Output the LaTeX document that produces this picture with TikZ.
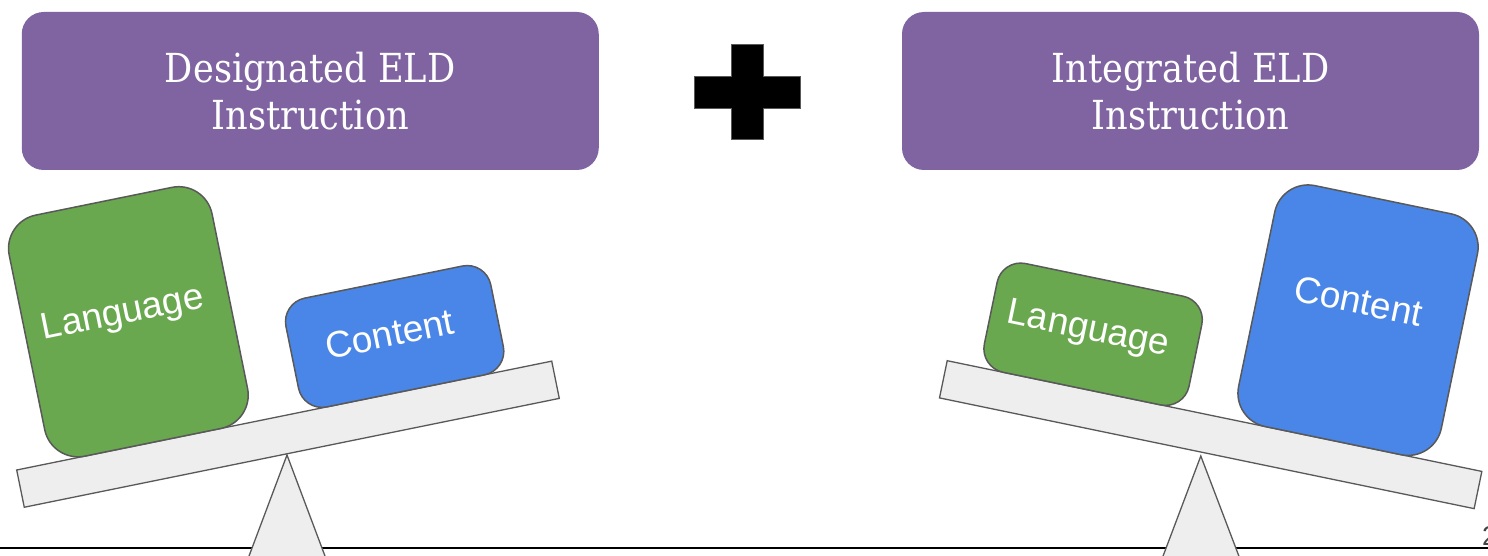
\documentclass[tikz,border=0pt]{standalone}
\usepackage{fontspec}
\setmainfont{DejaVu Serif}
\newfontfamily\titlefont[FakeStretch=0.88]{DejaVu Serif}
\newfontfamily\arialf{Liberation Sans}
\definecolor{titlepurple}{HTML}{8064A2}
\definecolor{boxgreen}{HTML}{6AA84F}
\definecolor{boxblue}{HTML}{4A86E8}
\definecolor{edgegray}{HTML}{595959}
\definecolor{plankgray}{HTML}{EEEEEE}
\definecolor{numgray}{HTML}{444444}
\begin{document}
\begin{tikzpicture}[x=1pt,y=-1pt,
  title/.style={fill=titlepurple, rounded corners=22pt, minimum width=577pt, minimum height=158pt,
    inner sep=0pt, outer sep=0pt},
  titletext/.style={text=white, align=center, font=\titlefont\fontsize{40}{47}\selectfont, inner sep=0pt},
  plank/.style={draw=edgegray, fill=plankgray, line width=1.3pt, minimum width=546pt,
    minimum height=38pt, inner sep=0pt, outer sep=0pt, anchor=north west},
  bigbox/.style={draw=edgegray, line width=1.5pt, rounded corners=34pt, minimum width=207pt,
    minimum height=246pt, inner sep=0pt, outer sep=0pt, anchor=south west},
  smallbox/.style={draw=edgegray, line width=1.5pt, rounded corners=24pt, minimum width=209pt,
    minimum height=111pt, inner sep=0pt, outer sep=0pt, anchor=south west},
  lbl/.style={text=white, font=\arialf\fontsize{37}{44}\selectfont, inner sep=0pt},
  fulcrum/.style={draw=edgegray, fill=plankgray, line width=1.3pt, line join=miter},
  plus/.style={fill=black, draw=edgegray, line width=1pt},
]
\useasboundingbox (0,0) rectangle (1488,556);
\fill[white] (0,0) rectangle (1488,556);

% titles
\node[title] (desig) at (310.25,91) {};
\node[titletext, anchor=base] (desigt) at (310.25,130) {Designated ELD\\Instruction};
\node[title] (integ) at (1190.5,91) {};
\node[titletext, anchor=base] (integt) at (1190.5,130) {Integrated ELD\\Instruction};

% plus sign
\draw[plus] (731,45) -- (763,45) -- (763,76.5) -- (800,76.5) -- (800,108.5) -- (763,108.5)
  -- (763,140) -- (731,140) -- (731,108.5) -- (694,108.5) -- (694,76.5) -- (731,76.5) -- cycle;

% ground line
\coordinate (g1) at (0,548);
\coordinate (g2) at (1488,548);
\draw[line width=2pt, black] (g1) -- (g2);

% fulcrums
\coordinate (apexL) at (287,455);
\draw[fulcrum] (apexL) -- (240,580) -- (334,580) -- cycle;
\coordinate (apexR) at (1200.8,456);
\draw[fulcrum] (apexR) -- (1154,580) -- (1248,580) -- cycle;

% left seesaw
\begin{scope}[shift={(16.7,470)}, rotate=11.5, transform shape]
  \node[plank] (plankL) at (0,0) {};
  \node[bigbox, fill=boxgreen] (langL) at (35.5,0) {};
  \node[smallbox, fill=boxblue] (contL) at (292.5,0) {};
  \node[lbl] (langLt) at (135,-131) {Language};
  \node[lbl] (contLt) at (392.5,-59) {Content};
\end{scope}

% right seesaw
\begin{scope}[shift={(947.2,360.7)}, rotate=-11.7, transform shape]
  \node[plank] (plankR) at (0,0) {};
  \node[smallbox, fill=boxgreen] (langR) at (33,0) {};
  \node[bigbox, fill=boxblue] (contR) at (290.6,0) {};
  \node[lbl] (langRt) at (132,-58) {Language};
  \node[lbl] (contRt) at (390.5,-142) {Content};
\end{scope}

% slide number
\node[anchor=base west, text=numgray, font=\arialf\fontsize{27}{27}\selectfont, inner sep=0pt] (pnum) at (1482,545) {2};
\end{tikzpicture}
\end{document}
